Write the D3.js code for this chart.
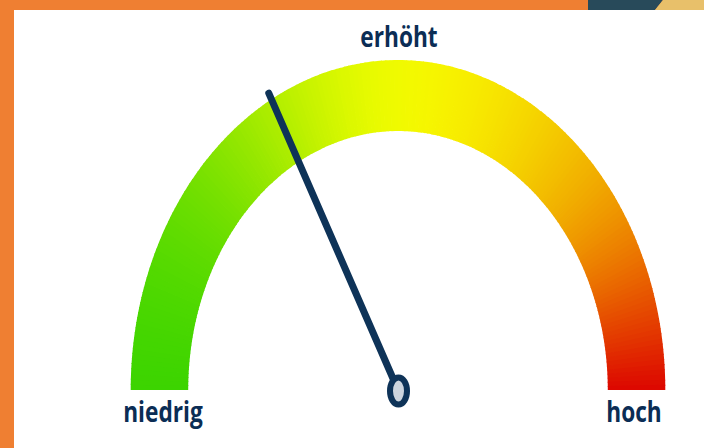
<!DOCTYPE html>
<html>
<head>
<meta charset="utf-8">
<script src="https://cdn.jsdelivr.net/npm/d3@7"></script>
<style>
  html, body { margin: 0; padding: 0; background: #ffffff; }
  svg { display: block; }
  .gauge-label { font-family: "Open Sans", "Noto Sans", sans-serif; font-weight: 700; font-size: 28px; fill: #0b2d55; }
</style>
</head>
<body>
<div id="chart"></div>
<script>
// --- data ---
const levelLabels = ["niedrig", "erhöht", "hoch"];
const levelValues = [0, 50, 100];
const colorStops = ["#3cd400", "#4cd800", "#6ade00", "#9ae800", "#d2f600", "#f6fe00",
                    "#f8ec00", "#f4cc00", "#f0a000", "#e85a00", "#dc0400"];
const needleValue = 34.3;

// --- setup ---
const width = 704, height = 448;
const cx = 398, cy = 390;
const squash = 0.81;        // the picture is narrowed horizontally
const outerR = 330, innerR = 259;

const svg = d3.select("#chart").append("svg")
    .attr("width", width)
    .attr("height", height);

// frame pieces
svg.append("rect").attr("x", 0).attr("y", 0).attr("width", width).attr("height", 10).attr("fill", "#ef7f32");
svg.append("rect").attr("x", 0).attr("y", 0).attr("width", 14).attr("height", height).attr("fill", "#ef7f32");
svg.append("path").attr("d", "M588,0 L663,0 L655,10 L588,10 Z").attr("fill", "#284a5a");
svg.append("path").attr("d", "M663,0 L704,0 L704,10 L655,10 Z").attr("fill", "#e8c06a");

// value -> angle (radians, 0 = up)
const angle = d3.scaleLinear().domain([0, 100]).range([-Math.PI / 2, Math.PI / 2]);
const colorOf = d3.interpolateRgbBasis(colorStops);

const g = svg.append("g")
    .attr("transform", `translate(${cx},${cy}) scale(${squash},1)`);

// gauge band drawn as many thin slices for a smooth sweep
const slices = d3.range(0, 100, 0.5);
const arc = d3.arc().innerRadius(innerR).outerRadius(outerR);
g.selectAll("path.slice")
    .data(slices)
    .enter()
    .append("path")
    .attr("class", "slice")
    .attr("d", d => arc({ startAngle: angle(d), endAngle: angle(Math.min(d + 0.6, 100)) }))
    .attr("fill", d => colorOf(d / 100));

// labels
const labelPos = [
    { x: cx - 235, y: 422 },
    { x: cx + 1, y: 47 },
    { x: cx + 236, y: 422 }
];
levelLabels.forEach((lab, i) => {
    svg.append("text")
        .attr("class", "gauge-label")
        .attr("transform", `translate(${labelPos[i].x},${labelPos[i].y}) scale(${squash},1)`)
        .attr("text-anchor", "middle")
        .text(lab);
});

// needle
const needleLen = 337;
const a = angle(needleValue);
const tipX = cx + Math.sin(a) * needleLen * squash;
const tipY = cy - Math.cos(a) * needleLen;
svg.append("line")
    .attr("x1", cx).attr("y1", cy)
    .attr("x2", tipX).attr("y2", tipY)
    .attr("stroke", "#0e3358")
    .attr("stroke-width", 7)
    .attr("stroke-linecap", "round");

svg.append("ellipse")
    .attr("cx", cx + 0.5).attr("cy", cy + 1)
    .attr("rx", 8.5).attr("ry", 13.5)
    .attr("fill", "#cdd5de")
    .attr("stroke", "#0e3358")
    .attr("stroke-width", 6);
</script>
</body>
</html>
